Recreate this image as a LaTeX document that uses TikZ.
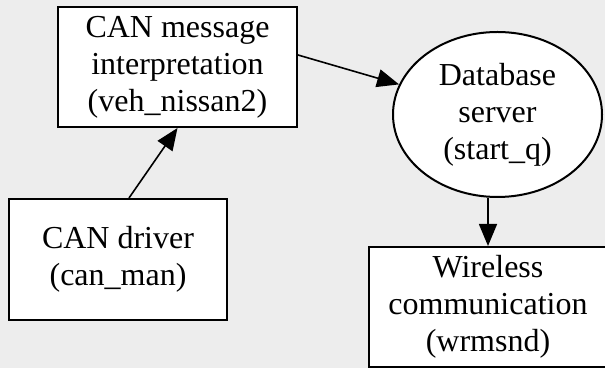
\documentclass[tikz,border=0pt]{standalone}
\usepackage{fontspec}
\setmainfont{Liberation Serif}
\usepackage{tikz}
\usetikzlibrary{arrows.meta,shapes.geometric}
\definecolor{bggray}{RGB}{237,237,237}
\tikzset{
  flow/.style={-{Triangle[length=11pt,width=9pt]}, line width=0.8pt, draw=black},
  block/.style={draw=black, line width=1pt, rectangle, fill=white, align=center, inner sep=0pt,
    font=\fontsize{16}{18.5}\selectfont},
  store/.style={draw=black, line width=1pt, ellipse, fill=white, align=center, inner sep=0pt,
    font=\fontsize{16}{18.5}\selectfont}
}

\begin{document}
\begin{tikzpicture}[x=0.5pt, y=-0.5pt]
  \fill[bggray] (0,0) rectangle (605,368);
  \clip (0,0) rectangle (605,368);

  \node[block, minimum width=119.5pt, minimum height=60pt] (interp) at (177.5,67)
    {CAN message\\interpretation\\(veh\_nissan2)};
  \node[store, minimum width=104.5pt, minimum height=82.5pt] (db) at (497.5,114.5)
    {Database\\server\\(start\_q)};
  \node[block, minimum width=109pt, minimum height=60.5pt] (drv) at (118,259.5)
    {CAN driver\\(can\_man)};
  \node[block, minimum width=119pt, minimum height=60pt] (wless) at (488,307)
    {Wireless\\communication\\(wrmsnd)};

  \draw[flow] ([xshift=5.5pt]drv.north) -- (interp.south);
  \draw[flow] ([yshift=6pt]interp.east) -- (db.163);
  \draw[flow] (wless.north |- db.south) -- (wless.north);
\end{tikzpicture}
\end{document}
